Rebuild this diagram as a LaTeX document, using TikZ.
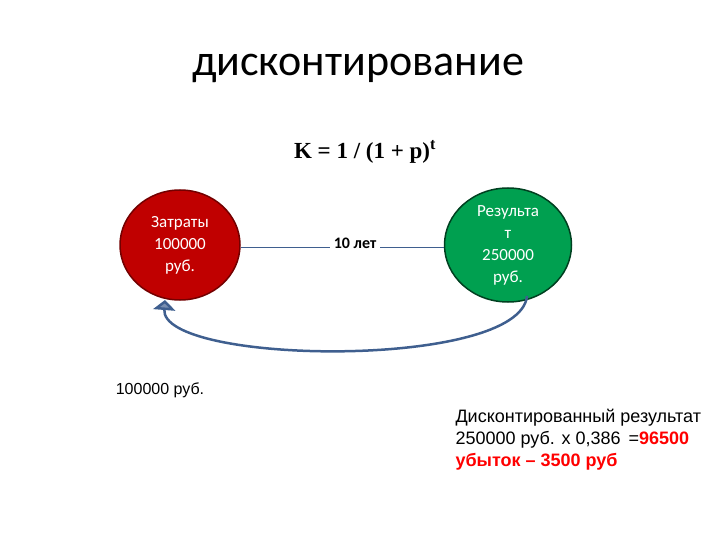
\documentclass[tikz,border=0pt]{standalone}
\usepackage{fontspec}
\setmainfont{Carlito}
\newfontfamily\ar{Liberation Sans}
\newfontfamily\tm{Liberation Serif}
\usetikzlibrary{shapes.geometric,arrows.meta}
\definecolor{bl}{HTML}{3F5F8F}
\definecolor{rd}{HTML}{C00000}
\definecolor{gn}{HTML}{00A050}
\tikzset{circ/.style={ellipse,draw=#1,line width=1.5pt,text=white,align=center,font=\fontsize{17}{22}\selectfont,inner sep=0pt}}
\begin{document}
\begin{tikzpicture}[x=1pt,y=-1pt]
\useasboundingbox (0,0) rectangle (720,540);
\node (title) at (358,68) {\fontsize{44}{48}\selectfont дисконтирование};
\node (f) at (365,152) {\tm\bfseries\fontsize{23}{26}\selectfont K = 1 / (1 + p)\textsuperscript{t}};
\node[circ=rd!60!black,fill=rd,minimum width=120pt,minimum height=110pt] (a) at (180,245) {Затраты\\100000\\руб.};
\node[circ=gn!40!black,fill=gn,minimum width=127pt,minimum height=114pt] (b) at (508,245) {Результа\\т\\250000\\руб.};
\node[inner sep=0pt,minimum width=50pt] (t) at (355,243) {\fontsize{16}{18}\selectfont\bfseries 10 лет};
\draw[bl] (a.east |- 0,247) -- (t.west |- 0,247);
\draw[bl] (t.east |- 0,247) -- (b.west |- 0,247);
\coordinate (s) at (527,296);
\coordinate (e) at (165,300);
\draw[bl,line width=2.5pt,-{Triangle[width=22pt,length=10pt,fill=bl!70]}] (s) .. controls (520,370) and (160,365) .. (e);
\node (l) at (160,390) {\ar\fontsize{16}{18}\selectfont 100000 руб.};
\node[anchor=north west,align=left,font=\ar\fontsize{18}{22}\selectfont] (r) at (452,406) {Дисконтированный результат\\250000 руб. х 0,386 \,=\textcolor{red}{\bfseries 96500}\\\textcolor{red}{\bfseries убыток – 3500 руб}};
\end{tikzpicture}
\end{document}
